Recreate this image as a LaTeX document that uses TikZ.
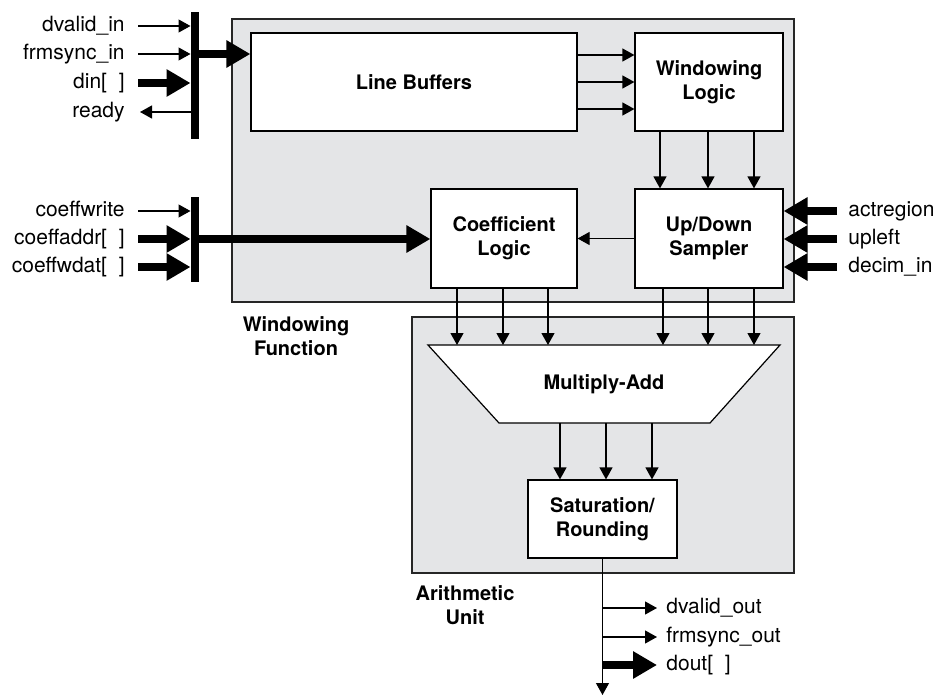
\documentclass[tikz,border=0pt]{standalone}
\usepackage{fontspec}
\setmainfont{TeX Gyre Heros}
\usetikzlibrary{arrows.meta}

\definecolor{grpfill}{RGB}{228,229,231}
\tikzset{
  grp/.style={draw=black!85, fill=grpfill, line width=0.6pt, inner sep=0pt},
  blk/.style={draw=black, fill=white, line width=0.6pt, inner sep=0pt, align=center, font=\bfseries},
  lbl/.style={inner sep=0pt, text height=7.6pt, text depth=2.4pt},
  grplbl/.style={align=center, font=\bfseries, inner sep=0pt},
  sig/.style={line width=0.6pt, -{Triangle[length=6pt,width=6.5pt]}},
  busarrow/.style={line width=4pt, -{Triangle[length=12pt,width=13pt]}},
  barline/.style={line width=4pt},
}

\begin{document}
\begin{tikzpicture}[x=0.5pt, y=-0.5pt, font=\fontsize{10.5}{12.5}\selectfont]
\useasboundingbox (0,0) rectangle (938,696);

% group boxes
\node[grp, minimum width=281pt, minimum height=141.5pt] (wf) at (513,160.5) {};
\node[grp, minimum width=191pt, minimum height=128pt] (au) at (603,445) {};

% blocks
\node[blk, minimum width=163pt, minimum height=49pt] (lb) at (414,82) {Line Buffers};
\node[blk, minimum width=74pt, minimum height=49pt] (wl) at (709,82) {Windowing\\Logic};
\node[blk, minimum width=73pt, minimum height=49.5pt] (cl) at (504,238.5) {Coefficient\\Logic};
\node[blk, minimum width=74pt, minimum height=49.5pt] (uds) at (709,238.5) {Up/Down\\Sampler};
\draw[line width=0.6pt, fill=white] (428,345) coordinate (mtl) -- (780,345) coordinate (mtr)
  -- (710,423) coordinate (mbr) -- (499,423) coordinate (mbl) -- cycle;
\node[font=\bfseries] (ma) at (604,384) {Multiply-Add};
\node[blk, minimum width=74.5pt, minimum height=39pt] (sat) at (602.5,519) {Saturation/\\Rounding};

\node[grplbl] (wfl) at (296,336.5) {Windowing\\Function};
\node[grplbl] (aul) at (465,605.5) {Arithmetic\\Unit};

% input bus bars
\coordinate (bar1) at (190.5,0);
\coordinate (bus1) at (194.5,54);
\coordinate (bus2) at (194.5,239);
\draw[barline] (194.5,12) -- (194.5,139);
\draw[barline] (194.5,197) -- (194.5,282);

% left side signals
\node[lbl, anchor=east] (dvi) at (125,26) {dvalid\_in};
\node[lbl, anchor=east] (fsi) at (125,54) {frmsync\_in};
\node[lbl, anchor=east] (din) at (125,83) {din[\ \ ]};
\node[lbl, anchor=east] (rdy) at (125,112) {ready};
\node[lbl, anchor=east] (cw) at (125,211) {coeffwrite};
\node[lbl, anchor=east] (ca) at (125,239) {coeffaddr[\ \ ]};
\node[lbl, anchor=east] (cwd) at (125,267) {coeffwdat[\ \ ]};

\draw[sig] ([xshift=6.5pt]dvi.east) -- (dvi.east -| bar1);
\draw[sig] ([xshift=6.5pt]fsi.east) -- (fsi.east -| bar1);
\draw[busarrow] ([xshift=6.5pt]din.east) -- (din.east -| bar1);
\draw[sig] (rdy.east -| bar1) -- ([xshift=7.5pt]rdy.east);
\draw[busarrow] (bus1) -- (bus1 -| lb.west);

\draw[sig] ([xshift=6.5pt]cw.east) -- (cw.east -| bar1);
\draw[busarrow] ([xshift=6.5pt]ca.east) -- (ca.east -| bar1);
\draw[busarrow] ([xshift=6.5pt]cwd.east) -- (cwd.east -| bar1);
\draw[busarrow] (bus2) -- (bus2 -| cl.west);

% right side signals
\node[lbl, anchor=west] (act) at (848,211) {actregion};
\node[lbl, anchor=west] (upl) at (848,239) {upleft};
\node[lbl, anchor=west] (dec) at (848,267) {decim\_in};
\draw[busarrow] ([xshift=-5.5pt]act.west) -- (act.west -| uds.east);
\draw[busarrow] ([xshift=-5.5pt]upl.west) -- (upl.west -| uds.east);
\draw[busarrow] ([xshift=-5.5pt]dec.west) -- (dec.west -| uds.east);

% internal connections
\draw[sig] (lb.east |- 0,55) -- (wl.west |- 0,55);
\draw[sig] (lb.east |- 0,82) -- (wl.west |- 0,82);
\draw[sig] (lb.east |- 0,109) -- (wl.west |- 0,109);

\draw[sig] (wl.south -| 660,0) -- (uds.north -| 660,0);
\draw[sig] (wl.south -| 708,0) -- (uds.north -| 708,0);
\draw[sig] (wl.south -| 754,0) -- (uds.north -| 754,0);

\draw[sig] (uds.west) -- (cl.east);

\draw[sig] (cl.south -| 457,0) -- (mtl -| 457,0);
\draw[sig] (cl.south -| 503,0) -- (mtl -| 503,0);
\draw[sig] (cl.south -| 548,0) -- (mtl -| 548,0);
\draw[sig] (uds.south -| 663,0) -- (mtl -| 663,0);
\draw[sig] (uds.south -| 708,0) -- (mtl -| 708,0);
\draw[sig] (uds.south -| 754,0) -- (mtl -| 754,0);

\draw[sig] (mbl -| 560,0) -- (sat.north -| 560,0);
\draw[sig] (mbl -| 606,0) -- (sat.north -| 606,0);
\draw[sig] (mbl -| 652,0) -- (sat.north -| 652,0);

% outputs
\coordinate (dn) at (602.5,695);
\draw[sig] (sat.south) -- (dn);
\node[lbl, anchor=west] (dvo) at (666,608) {dvalid\_out};
\node[lbl, anchor=west] (fso) at (666,637) {frmsync\_out};
\node[lbl, anchor=west] (dout) at (666,665) {dout[\ \ ]};
\draw[sig] (dvo.west -| sat.south) -- ([xshift=-4.5pt]dvo.west);
\draw[sig] (fso.west -| sat.south) -- ([xshift=-4.5pt]fso.west);
\draw[busarrow] (dout.west -| sat.south) -- ([xshift=-4.5pt]dout.west);
\end{tikzpicture}
\end{document}
